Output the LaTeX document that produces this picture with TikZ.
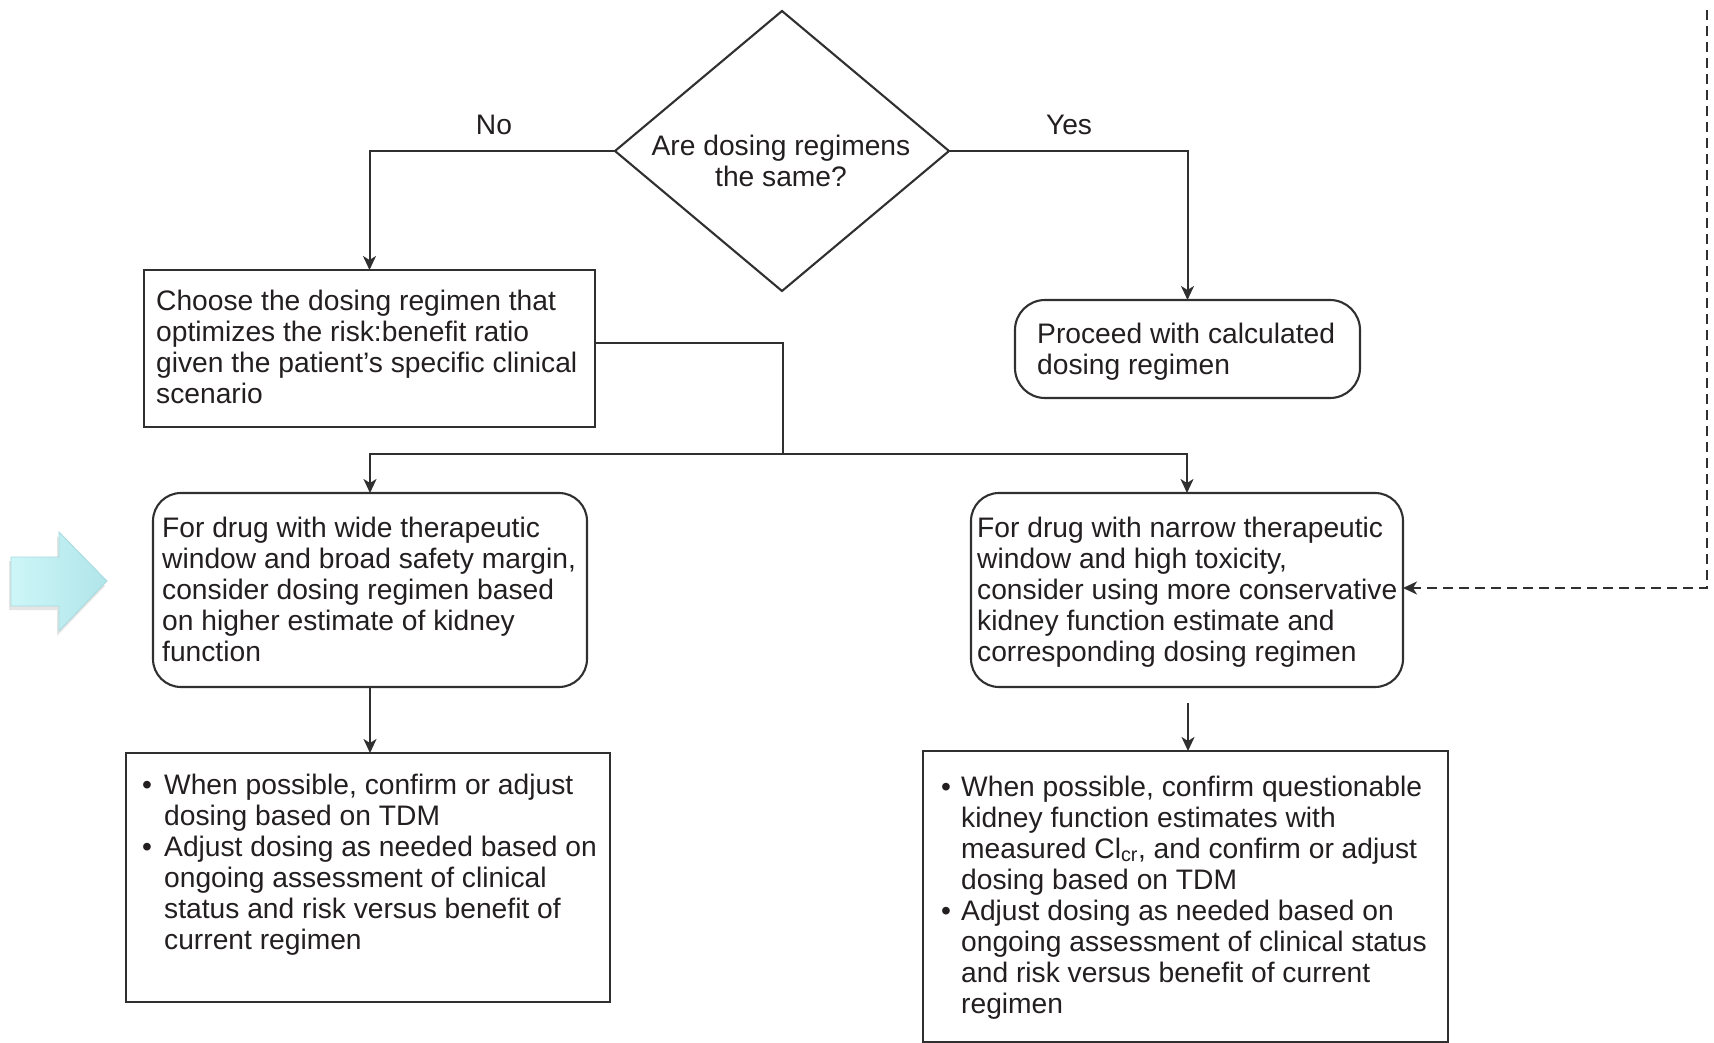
\documentclass[tikz,border=0pt]{standalone}
\usepackage{fontspec}
\setmainfont{Liberation Sans}
\usetikzlibrary{shapes.geometric,arrows.meta,calc}
\definecolor{ln}{HTML}{303030}
\definecolor{tx}{HTML}{231F20}
\definecolor{cyanL}{HTML}{CDF6F8}
\definecolor{cyanR}{HTML}{B0E5E9}
\definecolor{cyanE}{HTML}{A6DADE}
\newcommand{\bulA}{\makebox[22pt][l]{\textbullet}}
\newcommand{\indA}{\hspace*{22pt}}
\newcommand{\bulB}{\makebox[20pt][l]{\textbullet}}
\newcommand{\indB}{\hspace*{20pt}}
\tikzset{
  box/.style={draw=ln, line width=2.1pt, rectangle, inner sep=0pt, outer sep=0pt},
  rbox/.style={box, rounded corners=28pt},
  txt/.style={text=tx, font=\fontsize{28.2pt}{31pt}\selectfont, inner sep=0pt, align=left},
  conn/.style={draw=ln, line width=2pt},
  arr/.style={conn, -{Stealth[length=14pt,width=13pt,inset=4pt]}},
  dsh/.style={arr, dash pattern=on 10pt off 6pt}
}
\begin{document}
\begin{tikzpicture}[x=1pt,y=-1pt]
\useasboundingbox (0,0) rectangle (1714,1043);
\fill[white] (0,0) rectangle (1714,1043);

% shapes
\node[draw=ln, line width=2.1pt, diamond, minimum width=334pt, minimum height=280pt, inner sep=0pt, outer sep=0pt] (dia) at (782,151) {};
\node[box, minimum width=451pt, minimum height=157pt] (choose) at (369.5,348.5) {};
\node[rbox, rounded corners=30pt, minimum width=345pt, minimum height=98pt] (proceed) at (1187.5,349) {};
\node[rbox, minimum width=434pt, minimum height=194pt] (wide) at (370,590) {};
\node[rbox, minimum width=432pt, minimum height=194pt] (narrow) at (1187,590) {};
\node[box, minimum width=484pt, minimum height=249pt] (lowleft) at (368,877.5) {};
\node[box, minimum width=525pt, minimum height=291pt] (lowright) at (1185.5,896.5) {};

% texts
\node[txt, align=center, anchor=north] (qtext) at (781,133.3) {\strut Are dosing regimens\\the same?};
\node[txt, anchor=base] (nolab) at (494,135) {No};
\node[txt, anchor=base] (yeslab) at (1069,135) {Yes};
\node[txt, anchor=north west] (choosetext) at (156,288.3) {\strut Choose the dosing regimen that\\optimizes the risk:benefit ratio\\given the patient’s specific clinical\\scenario};
\node[txt, anchor=north west] (proceedtext) at (1037,321.3) {\strut Proceed with calculated\\dosing regimen};
\node[txt, anchor=north west] (widetext) at (162,515.3) {\strut For drug with wide therapeutic\\window and broad safety margin,\\consider dosing regimen based\\on higher estimate of kidney\\function};
\node[txt, anchor=north west] (narrowtext) at (977,515.3) {\strut For drug with narrow therapeutic\\window and high toxicity,\\consider using more conservative\\kidney function estimate and\\corresponding dosing regimen};
\node[txt, anchor=north west] (lltext) at (142,772.3) {\strut\bulA When possible, confirm or adjust\\\indA dosing based on TDM\\\bulA Adjust dosing as needed based on\\\indA ongoing assessment of clinical\\\indA status and risk versus benefit of\\\indA current regimen};
\node[txt, anchor=north west] (lrtext) at (941,774.3) {\strut\bulB When possible, confirm questionable\\\indB kidney function estimates with\\\indB measured Cl\textsubscript{cr}, and confirm or adjust\\\indB dosing based on TDM\\\bulB Adjust dosing as needed based on\\\indB ongoing assessment of clinical status\\\indB and risk versus benefit of current\\\indB regimen};

% connectors
\draw[arr] (dia.west) -| (choose.north);
\draw[arr] (dia.east) -| (proceed.north);
\coordinate (split) at (783,454);
\draw[conn] ([yshift=5.5pt]choose.east) -| (split);
\draw[arr] (split) -| (wide.north);
\draw[arr] (split) -| (narrow.north);
\draw[arr] (wide.south) -- (wide.south |- lowleft.north);
\coordinate (rs) at (1188,703);
\draw[arr] (rs) -- (rs |- lowright.north);
\coordinate (dtop) at (1707,10);
\draw[dsh] (dtop) |- ([yshift=2pt]narrow.east);

% cyan block arrow
\fill[black, opacity=0.10] (9,561) -- (57,561) -- (57,536) -- (105,586) -- (57,636) -- (57,610) -- (9,610) -- cycle;
\shadedraw[left color=cyanL, right color=cyanR, draw=cyanE, line width=0.8pt] (11,557) -- (59,557) -- (59,532) -- (107,581) -- (59,631) -- (59,606) -- (11,606) -- cycle;
\end{tikzpicture}
\end{document}
